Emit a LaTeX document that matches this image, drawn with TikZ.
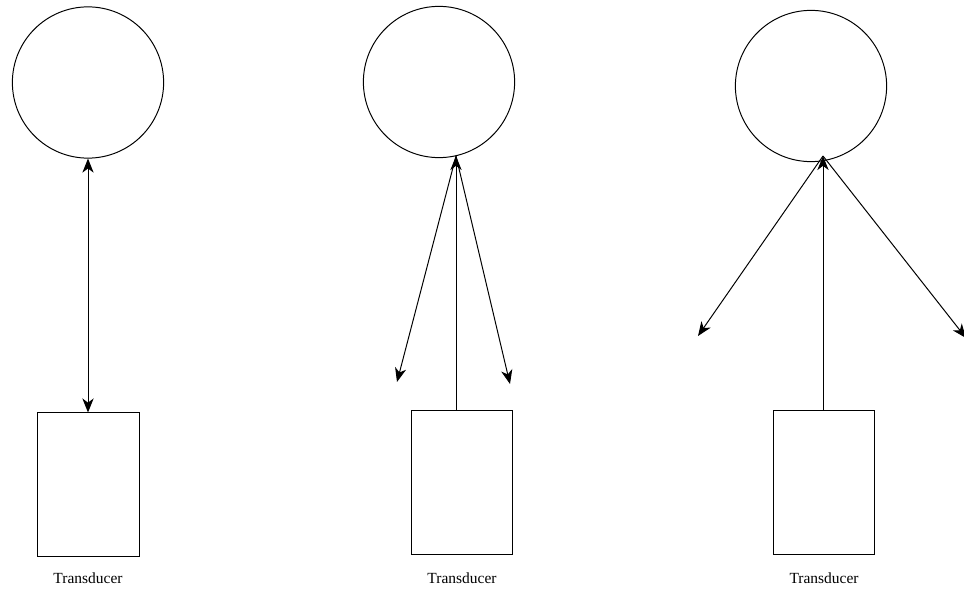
\documentclass[tikz,border=0pt]{standalone}
\usepackage{fontspec}
\setmainfont{Liberation Serif}
\usepackage{tikz}
\usetikzlibrary{arrows.meta,calc,positioning}
\definecolor{Ink}{HTML}{000000}

\begin{document}
\begin{tikzpicture}[x=0.025cm,y=-0.025cm,>={Stealth[length=10pt,width=8pt,inset=3pt]},
    line width=0.7pt,
    target/.style={draw=Ink,circle,minimum size=3.78cm,inner sep=0pt},
    probe/.style={draw=Ink,rectangle,minimum width=2.525cm,minimum height=3.575cm,inner sep=0pt},
    caption/.style={font=\fontsize{11}{13}\selectfont,text=Ink}]
    \useasboundingbox (0,0) rectangle (964,596);

    % single echo
    \node[target] (c1) at (88,82.5) {};
    \node[probe] (r1) at (88.5,484.5) {};
    \node[caption] (l1) at (88,578) {Transducer};
    \draw[<->,Ink] (c1.south) -- (r1.north -| c1.south);

    % narrow spread
    \node[target] (c2) at (439,82) {};
    \node[probe] (r2) at (461.5,482.5) {};
    \node[caption] (l2) at (462,578) {Transducer};
    \coordinate (b2) at ($(r2.north)+(-5.5,0)$);
    \coordinate (t2) at (456,156);
    \coordinate (e2a) at (397,382);
    \coordinate (e2b) at (510,384);
    \draw[->,Ink] (b2) -- (t2);
    \draw[->,Ink] (t2) -- (e2a);
    \draw[->,Ink] (t2) -- (e2b);

    % wide spread
    \node[target] (c3) at (811,86) {};
    \node[probe] (r3) at (824,482.5) {};
    \node[caption] (l3) at (824,578) {Transducer};
    \coordinate (b3) at ($(r3.north)+(-1,0)$);
    \coordinate (t3) at (823,156);
    \coordinate (e3a) at (698,336);
    \coordinate (e3b) at (966,338);
    \draw[->,Ink] (b3) -- (t3);
    \draw[->,Ink] (t3) -- (e3a);
    \draw[->,Ink] (t3) -- (e3b);
\end{tikzpicture}
\end{document}
